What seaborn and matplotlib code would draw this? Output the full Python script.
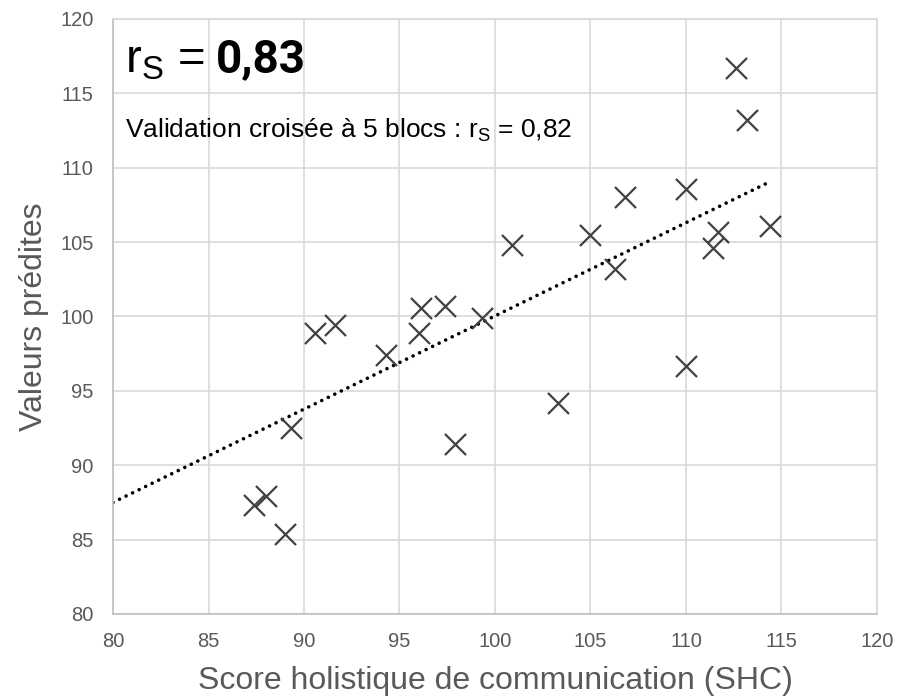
import numpy as np
import pandas as pd
import matplotlib
matplotlib.use("Agg")
import matplotlib.pyplot as plt
import seaborn as sns

# Datos
shc = [87.4, 88.0, 89.0, 89.3, 90.6, 91.6, 94.3, 96.0, 96.1, 97.4, 97.9, 99.3,
       100.9, 103.3, 105.0, 106.3, 106.8, 110.0, 110.0, 111.4, 111.7, 112.6, 113.2, 114.4]
predites = [87.3, 87.9, 85.4, 92.5, 98.9, 99.4, 97.4, 98.9, 100.6, 100.7, 91.4, 99.9,
            104.8, 94.2, 105.5, 103.2, 108.0, 108.6, 96.7, 104.6, 105.7, 116.7, 113.2, 106.1]
# Extremos de la línea de tendencia
tendance_x = [80, 114.3]
tendance_y = [87.5, 109.0]
x_ticks = [80, 85, 90, 95, 100, 105, 110, 115, 120]
y_ticks = [80, 85, 90, 95, 100, 105, 110, 115, 120]

df = pd.DataFrame({"SHC": shc, "Pred": predites})

sns.set_theme(style="whitegrid")
plt.rcParams['font.family'] = ['Liberation Sans', 'DejaVu Sans']
plt.rcParams['mathtext.fontset'] = 'custom'
plt.rcParams['mathtext.rm'] = 'Liberation Sans'

fig = plt.figure(figsize=(8.99, 6.97), dpi=100)
ax = fig.add_axes([0.1257, 0.1191, 0.8498, 0.8537])

# Línea de tendencia punteada
ax.plot(tendance_x, tendance_y, color='black', linewidth=2.6,
        linestyle=(0, (0.01, 2.0)), dash_capstyle='round', zorder=2)

sns.scatterplot(data=df, x="SHC", y="Pred", marker='x', s=230, color='#404040',
                linewidth=1.6, ax=ax, zorder=3)

ax.set_xlim(80, 120)
ax.set_ylim(80, 120)
ax.set_xticks(x_ticks)
ax.set_yticks(y_ticks)
ax.grid(True, color='#d9d9d9', linewidth=1.2)
for s in ax.spines.values():
    s.set_color('#d9d9d9')
    s.set_linewidth(1.2)
ax.spines['left'].set_color('#bfbfbf')
ax.spines['bottom'].set_color('#bfbfbf')
ax.tick_params(axis='both', labelsize=14.5, labelcolor='#595959', length=0)
ax.tick_params(axis='x', pad=13)
ax.tick_params(axis='y', pad=14)

ax.set_xlabel('Score holistique de communication (SHC)', fontsize=23, color='#595959', labelpad=11)
ax.set_ylabel('Valeurs prédites', fontsize=23, color='#595959', labelpad=8)

# Textos
ax.text(80.62, 116.4, r'$\mathregular{r_S}$ =', fontsize=34, color='black', ha='left', va='baseline')
ax.text(85.4, 116.4, '0,83', fontsize=33, fontweight='bold', family=['Roboto', 'DejaVu Sans'],
        color='black', ha='left', va='baseline')
ax.text(80.62, 111.98, r'Validation croisée à 5 blocs : $\mathregular{r_S}$ = 0,82', fontsize=19,
        color='black', ha='left', va='baseline')

fig.savefig('out.png', dpi=100)
